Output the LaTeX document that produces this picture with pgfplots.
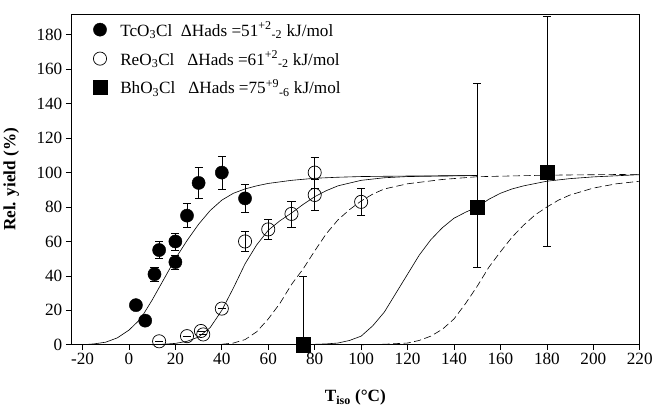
\documentclass[border=0pt]{standalone}
\usepackage{pgfplots}
\pgfplotsset{compat=1.18}
\usepackage{pgfplotstable}
\usepackage{fontspec}
\setmainfont{Liberation Serif}

% measured points
\pgfplotstableread{
x y e
3 23 2
7 14 2
11 41 4
13 55 5
20 48 4
20 60 5
25 75 7
30 94 9
40 100 9.5
50 85 8
}\tcdata
\pgfplotstableread{
x y e
13 2 0
25 5 0
31 8 0
32 6 0
40 21 0
50 60 6
60 67 6
70 76 7.5
80 100 9
80 87 9
100 83 8
}\redata
\pgfplotstableread{
x y ep em
75 0 40 0
150 80 72 35
180 100 91 43
}\bhdata

% fitted curves
\pgfplotstableread{
x y
-20 0
-15 0.5
-10 1.5
-5 4
0 8.5
5 15
10 26
15 38
20 50
25 60.5
30 70
35 78
40 84
45 88
50 90.5
55 92.3
60 93.7
70 95.5
80 96.7
90 97.3
100 97.7
120 98
150 98.3
}\tcfit
\pgfplotstableread{
x y
10 0
15 0.3
20 0.8
25 2
30 4.5
35 10
40 20
45 33
50 47
55 58
60 66.5
65 72
70 76.5
75 81.5
80 86
85 89.5
90 92.3
100 95.5
110 97
120 97.7
150 98.3
}\refit
\pgfplotstableread{
x y
40 0.3
45 1
50 3
55 7.5
60 15
65 24
70 35
75 44
80 54.5
85 64.5
90 72.5
95 78.5
100 83.5
105 87.5
110 90.5
120 93.5
135 96
150 97.6
180 98.5
220 99
}\bhlow
\pgfplotstableread{
x y
75 0
85 0.5
90 1
95 2.5
100 5
105 11
110 19
115 30
120 41
125 52
130 61
135 68
140 73.5
145 77
150 80
155 84.5
160 88
165 90.5
170 92.3
180 95
190 96.5
200 97.5
220 98.8
}\bhfit
\pgfplotstableread{
x y
100 0
110 0.3
120 1
125 2.5
130 5
135 9
140 15
145 24
150 34
155 45
160 54
165 62.5
170 69.5
175 75.5
180 80
185 84
190 87
200 91
210 93.5
220 95
}\bhhigh

\begin{document}
\begin{tikzpicture}
\begin{axis}[
  name=ax,
  width=561bp, height=326bp, scale only axis,
  xmin=-25, xmax=220, ymin=0, ymax=192,
  xtick={-20,0,...,220}, ytick={0,20,...,180},
  tick pos=left, tick align=outside,
  major tick length=5bp,
  /pgf/number format/assume math mode=true,
  tick label style={font=\fontsize{17}{20}\selectfont},
  xlabel={\textbf{T\textsubscript{iso} (°C)}},
  ylabel={\textbf{Rel. yield (\%)}},
  label style={font=\fontsize{17}{20}\selectfont},
  xlabel style={at={(axis description cs:0.5,-0.16)}, anchor=center},
  ylabel style={at={(axis description cs:-0.105,0.5)}, anchor=center},
  clip=false,
  axis line style={line width=0.7bp},
  every tick/.style={black, line width=0.7bp},
  legend style={at={(axis description cs:0.033,0.99)}, anchor=north west,
    draw=none, fill=none, font=\fontsize{17}{20}\selectfont,
    row sep=9bp, column sep=11bp, cells={anchor=west}},
  legend cell align=left,
  error bars/error bar style={line width=0.6bp, black},
  error bars/error mark options={rotate=90, mark size=4bp, line width=0.6bp, black},
]
\addplot[black, line width=0.6bp, forget plot] table {\tcfit};
\addplot[black, line width=0.6bp, forget plot] table {\refit};
\addplot[black, line width=0.6bp, dash pattern=on 7bp off 3.5bp, forget plot] table {\bhlow};
\addplot[black, line width=0.6bp, forget plot] table {\bhfit};
\addplot[black, line width=0.6bp, dash pattern=on 7bp off 3.5bp, forget plot] table {\bhhigh};

\addplot[only marks, mark=*, mark size=6.5bp, mark options={fill=black, draw=black},
  error bars/.cd, y dir=both, y explicit]
  table[x=x, y=y, y error=e] {\tcdata};
\addlegendentry{TcO\textsubscript{3}Cl\ \ ΔHads =51\textsuperscript{+2}\textsubscript{-2} kJ/mol}
\addplot[only marks, mark=o, mark size=6.5bp, mark options={fill=white, draw=black, line width=0.7bp},
  error bars/.cd, y dir=both, y explicit]
  table[x=x, y=y, y error=e] {\redata};
\addlegendentry{ReO\textsubscript{3}Cl\ \ \ ΔHads =61\textsuperscript{+2}\textsubscript{-2} kJ/mol}
\addplot[only marks, mark=square*, mark size=7bp, mark options={fill=black, draw=black},
  error bars/.cd, y dir=both, y explicit]
  table[x=x, y=y, y error plus=ep, y error minus=em] {\bhdata};
\addlegendentry{BhO\textsubscript{3}Cl\ \ \ ΔHads =75\textsuperscript{+9}\textsubscript{-6} kJ/mol}
\end{axis}
\path ([yshift=14bp]ax.north);
\end{tikzpicture}
\end{document}
